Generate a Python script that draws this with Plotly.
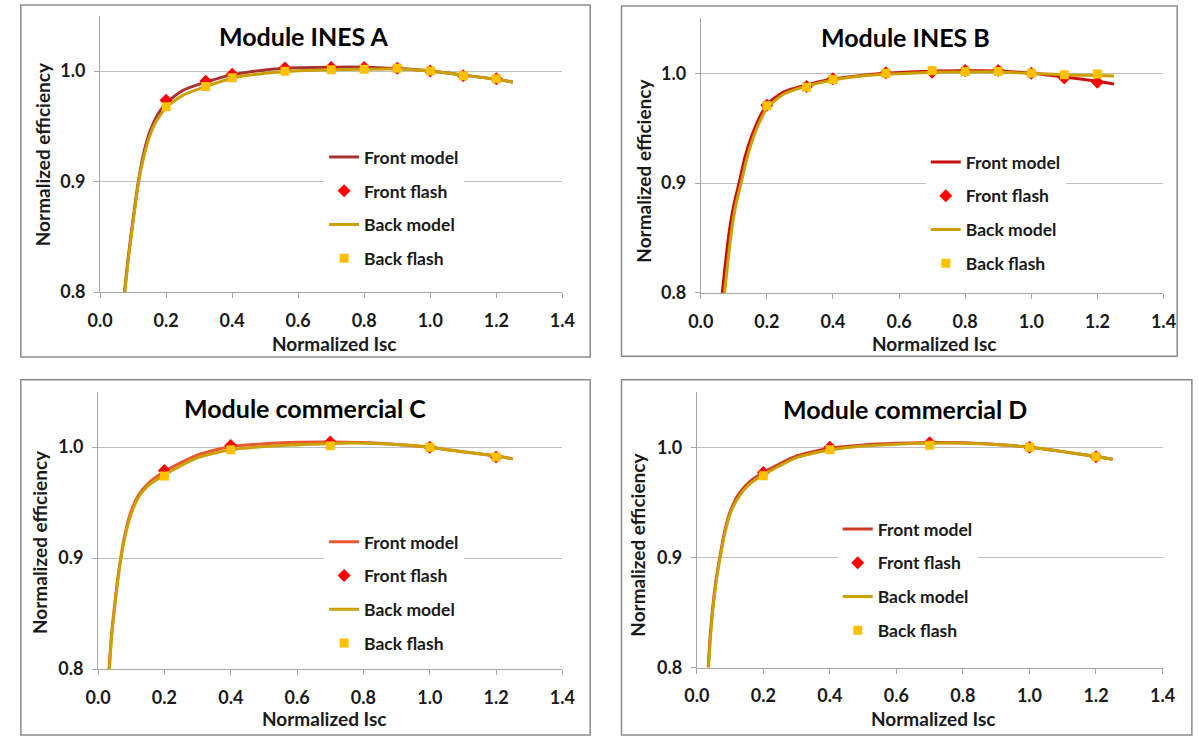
import plotly.graph_objects as go

W, H = 1199, 741

# ---------------- DATA ----------------
titles = ["Module INES A", "Module INES B", "Module commercial C", "Module commercial D"]
series_names = ["Front model", "Front flash", "Back model", "Back flash"]
x_ticks = [0.0, 0.2, 0.4, 0.6, 0.8, 1.0, 1.2, 1.4]
y_ticks = [0.8, 0.9, 1.0]

# Panel A
a_flash_x = [0.2, 0.32, 0.4, 0.56, 0.7, 0.8, 0.9, 1.0, 1.1, 1.2]
a_front_flash = [0.9735, 0.9907, 0.997, 1.0027, 1.0032, 1.0033, 1.0024, 1.0, 0.9958, 0.9929]
a_back_flash = [0.9676, 0.986, 0.9938, 0.9997, 1.0012, 1.0015, 1.0024, 1.0, 0.9958, 0.9929]
a_front_model_x = [0.074, 0.084, 0.094, 0.105, 0.116, 0.131, 0.145, 0.16, 0.18, 0.2, 0.25, 0.32, 0.4, 0.5, 0.56, 0.6, 0.7, 0.8, 0.9, 1.0, 1.1, 1.2, 1.25]
a_front_model_y = [0.800, 0.828, 0.852, 0.877, 0.900, 0.924, 0.940, 0.952, 0.963, 0.971, 0.9824, 0.990, 0.9965, 1.001, 1.0025, 1.003, 1.0035, 1.0035, 1.0022, 1.0, 0.9963, 0.9925, 0.990]
a_back_model_x = [0.075, 0.085, 0.095, 0.106, 0.117, 0.133, 0.147, 0.162, 0.182, 0.2, 0.25, 0.32, 0.4, 0.5, 0.56, 0.6, 0.7, 0.8, 0.9, 1.0, 1.1, 1.2, 1.25]
a_back_model_y = [0.800, 0.828, 0.852, 0.877, 0.900, 0.923, 0.938, 0.950, 0.960, 0.967, 0.978, 0.986, 0.9935, 0.998, 0.9995, 1.0003, 1.0012, 1.0017, 1.0018, 1.0, 0.9963, 0.9925, 0.990]

# Panel B
b_flash_x = [0.2, 0.32, 0.4, 0.56, 0.7, 0.8, 0.9, 1.0, 1.1, 1.2]
b_front_flash = [0.971, 0.988, 0.995, 1.0005, 1.001, 1.0025, 1.0025, 1.0, 0.9958, 0.9919]
b_back_flash = [0.9705, 0.9874, 0.9943, 1.0, 1.0023, 1.0018, 1.0018, 1.0, 0.9987, 0.9994]
b_front_model_x = [0.065, 0.075, 0.0846, 0.10, 0.116, 0.134, 0.1536, 0.175, 0.2, 0.25, 0.32, 0.4, 0.5, 0.56, 0.7, 0.8, 0.9, 1.0, 1.1, 1.2, 1.25]
b_front_model_y = [0.800, 0.828, 0.8525, 0.880, 0.900, 0.924, 0.9424, 0.958, 0.9715, 0.983, 0.9895, 0.9948, 0.9985, 1.0, 1.002, 1.0023, 1.0022, 1.0, 0.9967, 0.9928, 0.9904]
b_back_model_x = [0.072, 0.082, 0.0914, 0.106, 0.122, 0.140, 0.160, 0.180, 0.2, 0.25, 0.32, 0.4, 0.5, 0.56, 0.7, 0.8, 0.9, 1.0, 1.1, 1.2, 1.25]
b_back_model_y = [0.800, 0.828, 0.8525, 0.880, 0.900, 0.923, 0.9424, 0.957, 0.9685, 0.981, 0.9885, 0.994, 0.998, 0.9992, 1.0009, 1.0013, 1.0013, 1.0, 0.9987, 0.998, 0.9976]

# Panel C
c_flash_x = [0.2, 0.4, 0.7, 1.0, 1.2]
c_front_flash = [0.979, 1.0014, 1.0047, 1.0, 0.9911]
c_back_flash = [0.974, 0.9976, 1.0012, 1.0, 0.9911]
c_front_model_x = [0.033, 0.040, 0.048, 0.058, 0.068, 0.082, 0.097, 0.12, 0.15, 0.2, 0.3, 0.4, 0.5, 0.6, 0.7, 0.8, 0.9, 1.0, 1.1, 1.2, 1.25]
c_front_model_y = [0.800, 0.830, 0.853, 0.879, 0.900, 0.923, 0.940, 0.956, 0.967, 0.978, 0.993, 1.0005, 1.003, 1.0045, 1.0047, 1.0041, 1.0024, 1.0, 0.9958, 0.992, 0.9896]
c_back_model_x = [0.034, 0.041, 0.049, 0.059, 0.069, 0.083, 0.099, 0.12, 0.15, 0.2, 0.3, 0.4, 0.5, 0.6, 0.7, 0.8, 0.9, 1.0, 1.1, 1.2, 1.25]
c_back_model_y = [0.800, 0.830, 0.853, 0.879, 0.900, 0.922, 0.939, 0.954, 0.965, 0.975, 0.9905, 0.9976, 1.0005, 1.002, 1.0033, 1.0036, 1.0024, 1.0, 0.9958, 0.992, 0.9896]

# Panel D
d_flash_x = [0.2, 0.4, 0.7, 1.0, 1.2]
d_front_flash = [0.977, 1.0, 1.004, 1.0, 0.9913]
d_back_flash = [0.974, 0.9976, 1.0018, 1.0, 0.9913]
d_front_model_x = [0.034, 0.040, 0.047, 0.058, 0.069, 0.084, 0.101, 0.125, 0.16, 0.2, 0.3, 0.4, 0.5, 0.6, 0.7, 0.8, 0.9, 1.0, 1.1, 1.2, 1.25]
d_front_model_y = [0.800, 0.828, 0.852, 0.880, 0.900, 0.924, 0.942, 0.957, 0.969, 0.977, 0.992, 0.999, 1.002, 1.0035, 1.0042, 1.004, 1.0025, 1.0, 0.996, 0.9915, 0.989]
d_back_model_x = [0.035, 0.041, 0.048, 0.059, 0.070, 0.085, 0.102, 0.126, 0.16, 0.2, 0.3, 0.4, 0.5, 0.6, 0.7, 0.8, 0.9, 1.0, 1.1, 1.2, 1.25]
d_back_model_y = [0.800, 0.828, 0.852, 0.880, 0.900, 0.923, 0.941, 0.955, 0.967, 0.975, 0.9905, 0.9975, 1.001, 1.0028, 1.0037, 1.0037, 1.0025, 1.0, 0.996, 0.9915, 0.989]

panels_data = [
    (a_front_model_x, a_front_model_y, a_flash_x, a_front_flash, a_back_model_x, a_back_model_y, a_back_flash),
    (b_front_model_x, b_front_model_y, b_flash_x, b_front_flash, b_back_model_x, b_back_model_y, b_back_flash),
    (c_front_model_x, c_front_model_y, c_flash_x, c_front_flash, c_back_model_x, c_back_model_y, c_back_flash),
    (d_front_model_x, d_front_model_y, d_flash_x, d_front_flash, d_back_model_x, d_back_model_y, d_back_flash),
]

# ---------------- LAYOUT (pixels) ----------------
panel_layout = [
    dict(plot=(89, 561.5, 16, 296), border=(8, 5, 590, 362), title=(297, 36), xt=(328, 348), yt=(31, 156), leg=(360, 158)),
    dict(plot=(703, 1176, 18.7, 297), border=(622, 6, 1190, 361), title=(912, 37), xt=(941, 348), yt=(645, 173), leg=(975, 163)),
    dict(plot=(87, 561.6, 397, 678.3), border=(8, 385, 590, 745), title=(298, 414), xt=(318, 728), yt=(27, 549), leg=(360, 548)),
    dict(plot=(699, 1175, 397.5, 676.7), border=(622, 385, 1205, 745), title=(912, 415), xt=(940, 728), yt=(638, 552), leg=(885, 535)),
]
front_colors = ["#A83232", "#C80F0F", "#E8582E", "#CC3A22"]
back_color = "#CCA000"
front_flash_color = "#FF0000"
back_flash_color = "#FFC000"

FONT = "Lato"
AX_COL = "#A6A6A6"
GRID_COL = "#BFBFBF"
TXT = "#1a1a1a"


def px(x):
    return x / W


def py(y):
    return 1 - y / H


fig = go.Figure()
layout = dict(
    width=W, height=H, margin=dict(l=0, r=0, t=0, b=0),
    paper_bgcolor="white", plot_bgcolor="white",
    font=dict(family=FONT, size=17, color=TXT, weight="bold"),
    shapes=[], annotations=[],
)

for i, (pl, data) in enumerate(zip(panel_layout, panels_data)):
    fmx, fmy, flx, ffy, bmx, bmy, bfy = data
    n = "" if i == 0 else str(i + 1)
    xa, ya = "x" + n, "y" + n
    leg = "legend" + n
    x0, x1, yt, yb = pl["plot"]
    traces = [
        go.Scatter(x=fmx, y=fmy, mode="lines", name=series_names[0],
                   line=dict(color=front_colors[i], width=3, shape="spline", smoothing=0.6)),
        go.Scatter(x=flx, y=ffy, mode="markers", name=series_names[1],
                   marker=dict(symbol="diamond", color=front_flash_color, size=10)),
        go.Scatter(x=bmx, y=bmy, mode="lines", name=series_names[2],
                   line=dict(color=back_color, width=3, shape="spline", smoothing=0.6)),
        go.Scatter(x=flx, y=bfy, mode="markers", name=series_names[3],
                   marker=dict(symbol="square", color=back_flash_color, size=9)),
    ]
    for k, t in enumerate(traces):
        t.update(xaxis=xa, yaxis=ya, legend=leg, legendgroup=f"g{i}_{k}", hoverinfo="x+y")
        fig.add_trace(t)

    layout["xaxis" + n] = dict(
        domain=[px(x0), px(x1)], anchor=ya, range=[0, 1.4], tickvals=x_ticks, tickformat=".1f",
        showgrid=False, zeroline=False, showline=True, linecolor=AX_COL, linewidth=1,
        ticks="outside", ticklen=5, tickcolor=AX_COL, ticklabelstandoff=7,
        tickfont=dict(family=FONT, size=18, color=TXT, weight="bold"),
    )
    layout["yaxis" + n] = dict(
        domain=[py(yb), py(yt)], anchor=xa, range=[0.8, 1.05], tickvals=y_ticks, tickformat=".1f",
        showgrid=True, gridcolor=GRID_COL, gridwidth=1, zeroline=False, showline=True,
        linecolor=AX_COL, linewidth=1, ticks="outside", ticklen=5, tickcolor=AX_COL,
        ticklabelstandoff=5,
        tickfont=dict(family=FONT, size=18, color=TXT, weight="bold"),
    )
    tx, fy = pl["leg"]
    layout[leg] = dict(
        x=px(tx - 42), y=py(fy - 17), xanchor="left", yanchor="top",
        bgcolor="white", borderwidth=0, traceorder="grouped", tracegroupgap=8,
        font=dict(family=FONT, size=17.5, color=TXT, weight="bold"),
    )
    bx0, by0, bx1, by1 = pl["border"]
    layout["shapes"].append(dict(type="rect", xref="paper", yref="paper",
                                 x0=px(bx0), x1=px(bx1), y0=py(by1), y1=py(by0),
                                 line=dict(color="#8C8C8C", width=1.5), fillcolor="rgba(0,0,0,0)",
                                 layer="below"))
    ttx, tty = pl["title"]
    layout["annotations"].append(dict(text=titles[i], x=px(ttx), y=py(tty), xref="paper", yref="paper",
                                      xanchor="center", yanchor="middle", showarrow=False,
                                      font=dict(family=FONT, size=25, color="#000000", weight="bold")))
    xtx, xty = pl["xt"]
    layout["annotations"].append(dict(text="Normalized Isc", x=px(xtx), y=py(xty), xref="paper", yref="paper",
                                      xanchor="center", yanchor="middle", showarrow=False,
                                      font=dict(family=FONT, size=19, color=TXT, weight="bold")))
    ytx, yty = pl["yt"]
    layout["annotations"].append(dict(text="Normalized efficiency", x=px(ytx), y=py(yty), xref="paper", yref="paper",
                                      xanchor="center", yanchor="middle", showarrow=False, textangle=-90,
                                      font=dict(family=FONT, size=19, color=TXT, weight="bold")))

fig.update_layout(**layout)
fig.write_html(
    "out.html",
    config={"displayModeBar": False},
    post_script="document.body.style.margin='0px';document.documentElement.style.overflow='hidden';document.body.style.overflow='hidden';",
)
